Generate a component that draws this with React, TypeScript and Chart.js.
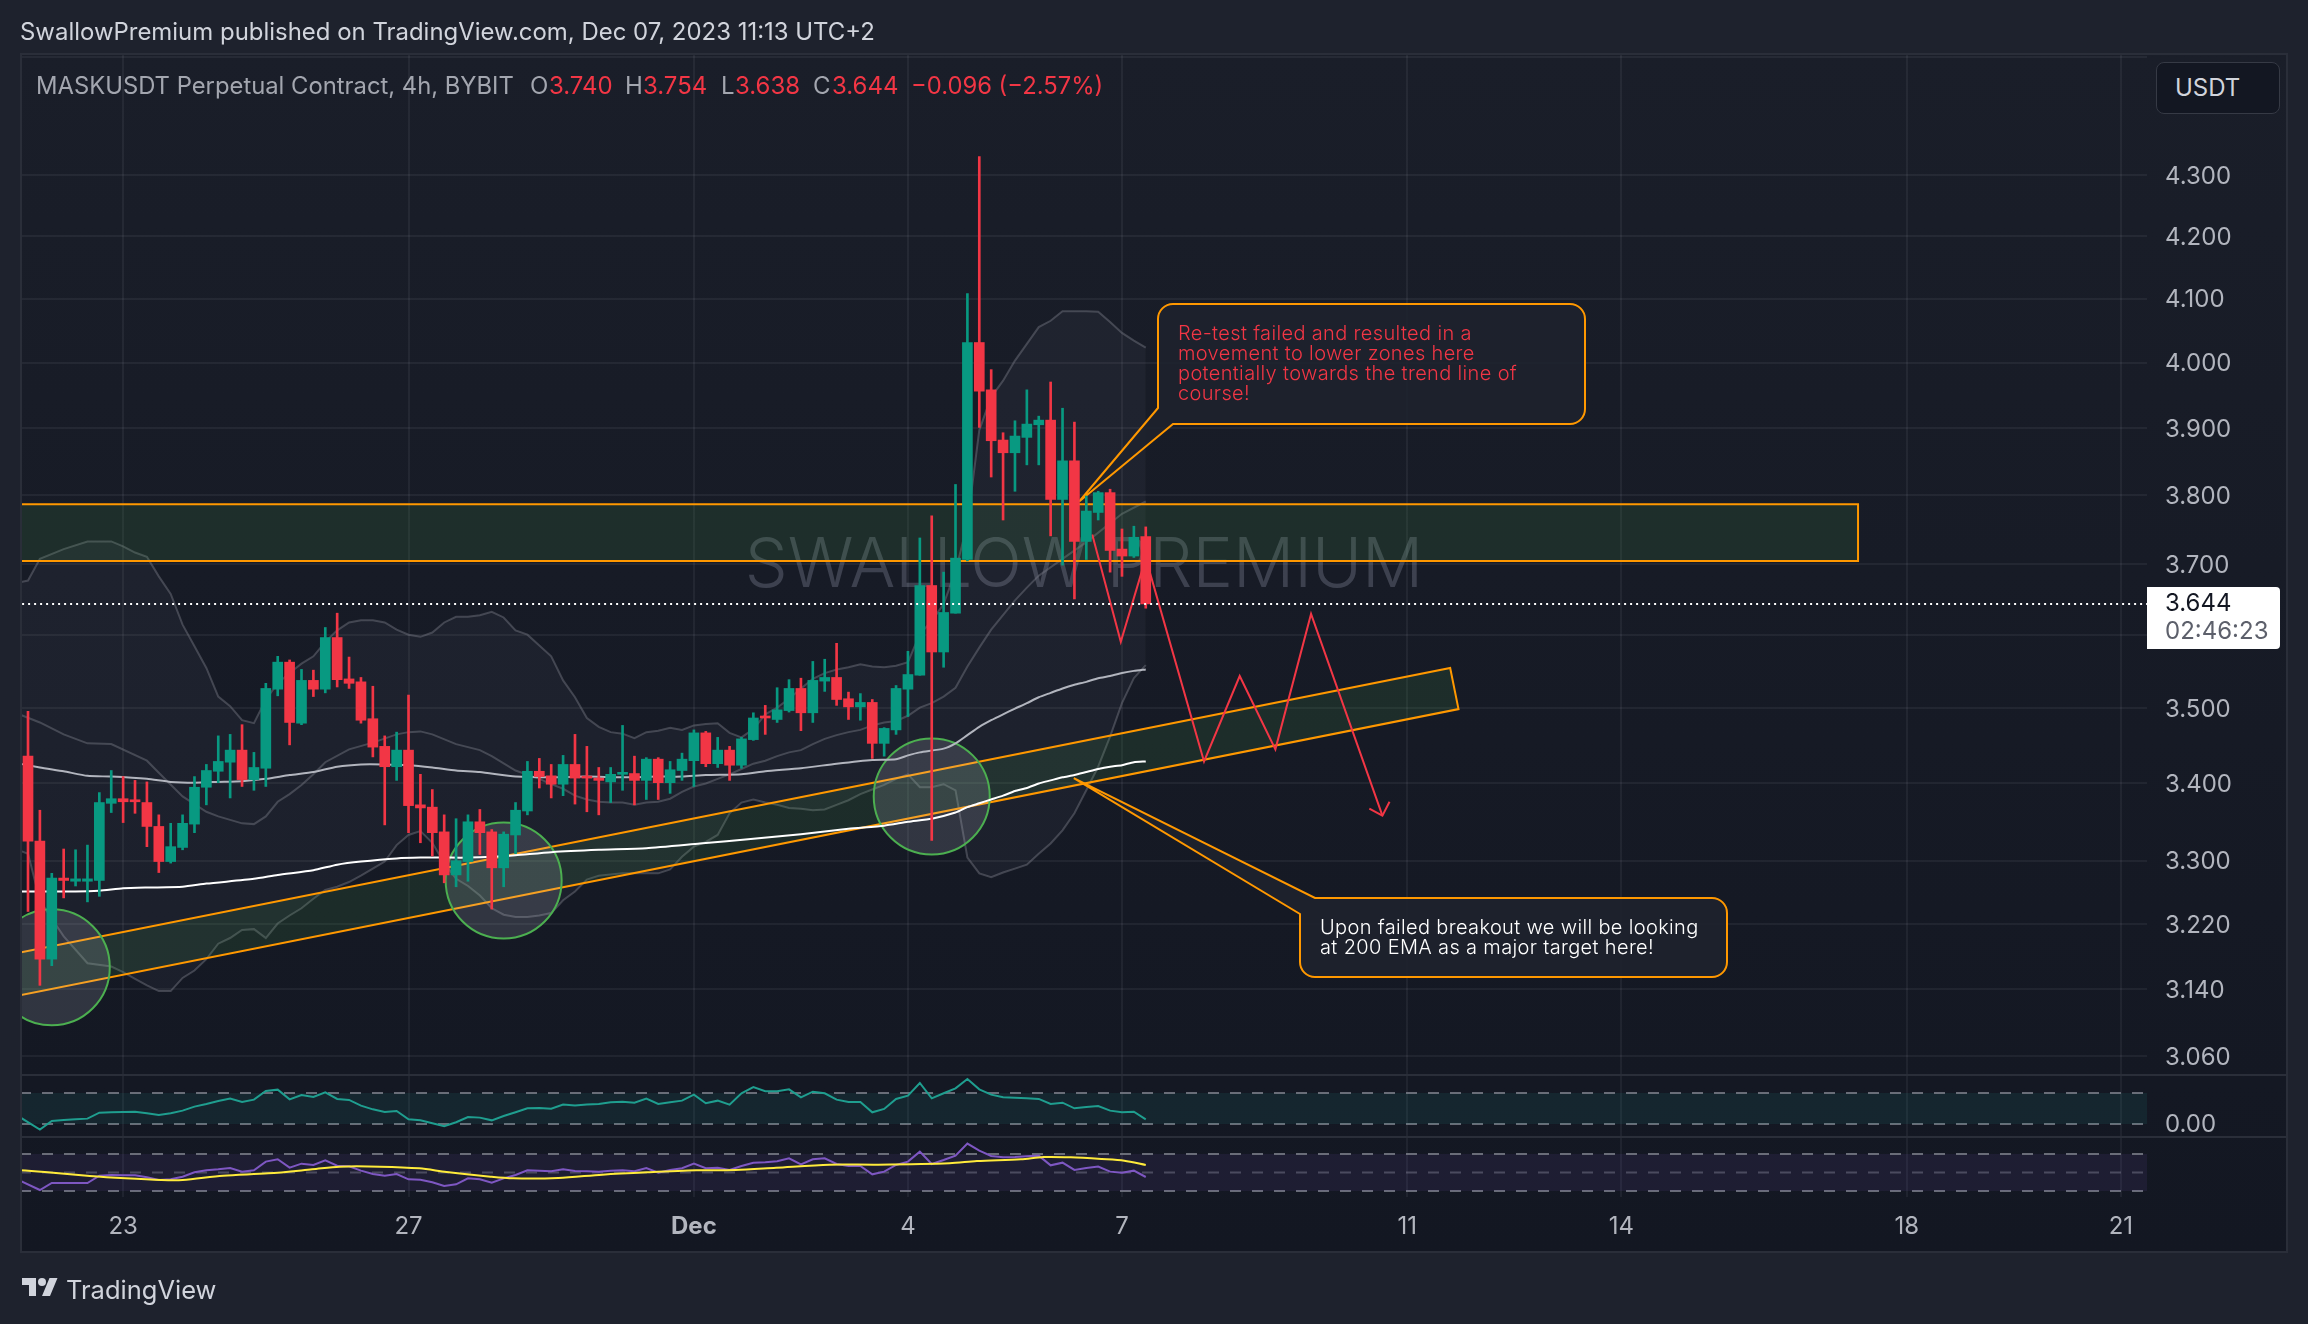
import React, { useEffect, useRef } from "react";
import { Chart, registerables } from "chart.js";

Chart.register(...registerables);

const opens = [3.436,3.325,3.177,3.278,3.274,3.274,3.275,3.374,3.380,3.378,
3.375,3.344,3.299,3.317,3.347,3.395,3.416,3.428,3.444,3.405,
3.420,3.526,3.563,3.480,3.538,3.526,3.597,3.540,3.536,3.486,
3.449,3.422,3.444,3.372,3.369,3.337,3.282,3.299,3.350,3.337,
3.291,3.333,3.364,3.416,3.410,3.399,3.425,3.409,3.407,3.402,
3.412,3.413,3.404,3.432,3.401,3.417,3.430,3.467,3.426,3.444,
3.424,3.458,3.489,3.485,3.497,3.527,3.494,3.537,3.542,3.513,
3.502,3.508,3.453,3.471,3.526,3.545,3.670,3.577,3.631,3.707,
4.031,3.958,3.882,3.863,3.886,3.905,3.912,3.794,3.851,3.733,
3.775,3.804,3.722,3.712,3.740];
const closes = [3.325,3.177,3.278,3.275,3.277,3.277,3.375,3.380,3.376,3.376,
3.344,3.299,3.318,3.348,3.395,3.417,3.429,3.444,3.405,3.421,
3.527,3.563,3.481,3.538,3.526,3.597,3.539,3.534,3.484,3.448,
3.422,3.444,3.371,3.368,3.336,3.282,3.300,3.350,3.336,3.291,
3.334,3.365,3.416,3.409,3.399,3.425,3.407,3.407,3.404,3.412,
3.414,3.404,3.432,3.401,3.418,3.432,3.467,3.426,3.444,3.424,
3.459,3.487,3.487,3.498,3.527,3.494,3.538,3.542,3.512,3.502,
3.508,3.453,3.473,3.527,3.546,3.670,3.577,3.632,3.709,4.031,
3.956,3.881,3.863,3.888,3.906,3.912,3.794,3.851,3.733,3.777,
3.804,3.720,3.712,3.739,3.644];
const highs = [3.496,3.365,3.284,3.315,3.314,3.320,3.388,3.417,3.409,3.404,
3.402,3.359,3.348,3.359,3.409,3.425,3.463,3.465,3.478,3.441,
3.534,3.571,3.566,3.553,3.552,3.611,3.631,3.570,3.542,3.530,
3.463,3.468,3.518,3.412,3.392,3.359,3.354,3.359,3.366,3.340,
3.337,3.375,3.429,3.433,3.425,3.437,3.465,3.449,3.421,3.421,
3.477,3.436,3.434,3.434,3.429,3.440,3.471,3.469,3.461,3.449,
3.461,3.494,3.504,3.528,3.539,3.541,3.564,3.567,3.589,3.522,
3.520,3.512,3.474,3.531,3.578,3.738,3.770,3.689,3.816,4.108,
4.331,3.989,3.893,3.911,3.958,3.918,3.970,3.930,3.909,3.799,
3.806,3.809,3.751,3.755,3.754];
const lows = [3.236,3.145,3.169,3.253,3.268,3.248,3.255,3.362,3.349,3.361,
3.318,3.285,3.297,3.314,3.336,3.372,3.401,3.381,3.396,3.391,
3.396,3.517,3.451,3.478,3.516,3.521,3.529,3.527,3.480,3.435,
3.346,3.404,3.336,3.323,3.306,3.272,3.267,3.274,3.308,3.239,
3.267,3.309,3.359,3.394,3.381,3.384,3.373,3.363,3.359,3.375,
3.391,3.372,3.379,3.379,3.387,3.404,3.396,3.422,3.421,3.404,
3.420,3.457,3.465,3.481,3.495,3.470,3.481,3.523,3.504,3.485,
3.484,3.433,3.436,3.465,3.489,3.545,3.326,3.556,3.631,3.705,
3.901,3.827,3.764,3.806,3.845,3.845,3.741,3.699,3.651,3.707,
3.764,3.689,3.683,3.710,3.638];

type Pair = [number, number];
const bbUpper: Pair[] = [[-2,3.67],[0,3.677],[1,3.708],[3,3.722],[5,3.733],[7,3.733],[8,3.726],[9,3.717],[10,3.711],[11,3.683],[12,3.658],[13,3.615],[14,3.585],[15,3.555],[16,3.516],[17,3.503],[18,3.484],[19,3.480],[20,3.512],[21,3.534],[22,3.548],[23,3.561],[24,3.571],[25,3.591],[26,3.607],[27,3.618],[28,3.621],[29,3.621],[30,3.618],[31,3.608],[32,3.601],[33,3.598],[34,3.604],[35,3.618],[36,3.626],[37,3.626],[38,3.628],[39,3.633],[40,3.625],[41,3.607],[42,3.601],[43,3.586],[44,3.571],[45,3.538],[46,3.515],[47,3.487],[48,3.475],[49,3.468],[50,3.466],[51,3.460],[52,3.468],[53,3.470],[54,3.474],[55,3.471],[56,3.477],[57,3.479],[58,3.480],[59,3.467],[60,3.461],[61,3.472],[62,3.492],[63,3.501],[64,3.513],[65,3.527],[66,3.540],[67,3.548],[68,3.553],[69,3.556],[70,3.560],[71,3.557],[72,3.556],[73,3.558],[74,3.563],[75,3.602],[76,3.620],[77,3.644],[78,3.69],[79,3.759],[80,3.897],[81,3.947],[82,3.972],[83,4.003],[84,4.029],[85,4.055],[86,4.065],[87,4.080],[88,4.080],[89,4.080],[90,4.079],[91,4.063],[92,4.046],[93,4.034],[94,4.023]];
const bbLower: Pair[] = [[-2,3.32],[0,3.309],[1,3.250],[2,3.227],[3,3.205],[5,3.172],[7,3.168],[8,3.161],[9,3.153],[10,3.145],[11,3.138],[12,3.138],[13,3.154],[14,3.163],[15,3.177],[16,3.196],[17,3.203],[18,3.213],[19,3.214],[20,3.203],[21,3.221],[22,3.231],[23,3.240],[24,3.252],[25,3.263],[26,3.267],[27,3.273],[28,3.281],[29,3.290],[30,3.299],[31,3.320],[32,3.333],[33,3.338],[34,3.323],[35,3.297],[36,3.277],[37,3.268],[38,3.256],[39,3.240],[40,3.232],[41,3.229],[42,3.229],[43,3.231],[44,3.234],[45,3.250],[46,3.261],[47,3.276],[48,3.281],[50,3.284],[52,3.284],[53,3.284],[54,3.289],[55,3.305],[56,3.318],[57,3.324],[58,3.333],[59,3.361],[60,3.375],[61,3.379],[62,3.375],[63,3.372],[64,3.368],[65,3.367],[66,3.365],[67,3.366],[68,3.372],[69,3.378],[70,3.386],[71,3.392],[72,3.398],[73,3.406],[74,3.412],[75,3.395],[76,3.395],[77,3.399],[78,3.391],[79,3.304],[80,3.284],[81,3.279],[82,3.285],[83,3.290],[84,3.295],[85,3.309],[86,3.322],[87,3.339],[88,3.361],[89,3.391],[90,3.422],[91,3.462],[92,3.507],[93,3.541],[94,3.559]];
const bbBasis: Pair[] = [[-2,3.50],[1,3.481],[3,3.465],[5,3.453],[7,3.452],[10,3.430],[11,3.414],[13,3.383],[15,3.363],[16,3.357],[18,3.348],[19,3.347],[20,3.357],[21,3.376],[22,3.386],[23,3.398],[24,3.412],[25,3.428],[27,3.445],[29,3.454],[31,3.465],[32,3.468],[33,3.469],[34,3.465],[36,3.452],[38,3.444],[39,3.436],[41,3.417],[43,3.406],[44,3.399],[45,3.393],[46,3.384],[47,3.379],[48,3.376],[49,3.375],[50,3.375],[51,3.372],[52,3.375],[53,3.376],[54,3.380],[55,3.389],[56,3.396],[57,3.400],[58,3.406],[59,3.412],[60,3.419],[61,3.426],[62,3.430],[63,3.436],[64,3.441],[65,3.444],[66,3.452],[67,3.459],[68,3.464],[69,3.468],[70,3.471],[71,3.477],[72,3.481],[73,3.483],[74,3.490],[75,3.501],[76,3.507],[77,3.516],[78,3.528],[79,3.557],[80,3.583],[81,3.608],[83,3.649],[84,3.667],[85,3.684],[87,3.708],[89,3.732],[92,3.773],[94,3.791]];
const ema50: Pair[] = [[-2,3.43],[1,3.421],[3,3.416],[5,3.410],[7,3.409],[10,3.406],[12,3.402],[14,3.401],[16,3.402],[18,3.403],[20,3.406],[22,3.411],[24,3.415],[26,3.422],[28,3.425],[30,3.425],[32,3.424],[34,3.421],[36,3.417],[38,3.415],[41,3.409],[44,3.408],[47,3.409],[50,3.408],[53,3.409],[55,3.409],[57,3.411],[60,3.412],[62,3.416],[65,3.420],[68,3.426],[71,3.431],[73,3.432],[74,3.437],[75,3.441],[77,3.446],[78,3.453],[79,3.464],[80,3.475],[81,3.484],[82,3.492],[83,3.4996],[84,3.507],[85,3.515],[86,3.521],[87,3.527],[88,3.532],[89,3.536],[90,3.541],[91,3.544],[92,3.548],[93,3.551],[94,3.553]];
const ema200: Pair[] = [[-2,3.261],[4,3.261],[6,3.262],[8,3.265],[10,3.266],[13,3.267],[15,3.271],[19,3.277],[21,3.282],[24,3.288],[26,3.295],[28,3.299],[31,3.303],[33,3.304],[35,3.304],[37,3.304],[39,3.305],[41,3.307],[44,3.311],[48,3.314],[52,3.316],[56.5,3.322],[61,3.328],[65,3.334],[69,3.341],[72,3.345],[74,3.350],[76,3.354],[78,3.362],[79,3.369],[80,3.374],[81,3.379],[82,3.384],[83,3.390],[84,3.394],[85,3.400],[86,3.404],[87,3.408],[88,3.411],[89,3.415],[90,3.419],[91,3.422],[92,3.424],[93,3.428],[94,3.429]];

const rsiValues: Pair[] = [[-2,42],[-0.67,38.6],[1,22.7],[2,33.9],[3,35.2],[4,36.0],[5,36.9],[6,44.6],[7,45.1],[8,45.5],[9,45.9],[10,43.8],[11,41.6],[12,43.8],[13,47.2],[14,52.4],[15,55.8],[16,59.7],[17,62.7],[18,58.4],[19,61.4],[20,72.6],[21,74.3],[22,61.8],[23,67.4],[24,64.8],[25,70.9],[26,62.3],[27,61.0],[28,53.7],[29,48.9],[30,45.5],[31,46.8],[32,36.0],[33,34.7],[34,30.9],[35,27.0],[36,32.2],[37,39.0],[38,38.2],[39,34.7],[40,40.3],[41,45.1],[42,50.2],[43,50.7],[44,49.8],[45,55.0],[46,53.7],[47,55.0],[48,55.8],[49,58.0],[50,58.8],[51,57.5],[52,62.7],[53,55.8],[54,58.0],[55,60.1],[56,67.9],[57,56.7],[58,60.1],[59,55.0],[60,69.6],[61,77.7],[62,72.2],[63,72.2],[64,74.7],[65,64.4],[66,71.7],[67,69.6],[68,61.4],[69,58.4],[70,58.4],[71,45.1],[72,49.4],[73,62.3],[74,66.6],[75,82.9],[76,63.1],[77,69.6],[78,76.0],[79,88.1],[80,74.7],[81,67.9],[82,64.4],[83,64.0],[84,63.1],[85,62.3],[86,55.8],[87,57.5],[88,50.2],[89,51.9],[90,53.2],[91,47.2],[92,45.1],[93,45.9],[94,36.0]];
const stochK: Pair[] = [[-2,40],[-0.67,36.8],[1,21.6],[2,33.0],[3,33.0],[4,33.0],[5,33.0],[6,44.9],[7,45.9],[8,45.4],[9,45.4],[10,42.2],[11,37.8],[12,38.9],[13,43.2],[14,50.3],[15,53.5],[16,55.1],[17,57.3],[18,51.4],[19,53.5],[20,67.6],[21,71.4],[22,57.8],[23,64.3],[24,62.2],[25,69.7],[26,61.1],[27,60.0],[28,53.0],[29,47.6],[30,44.9],[31,47.6],[32,38.9],[33,38.4],[34,34.1],[35,28.1],[36,30.8],[37,40.5],[38,38.9],[39,33.5],[40,40.5],[41,45.9],[42,53.5],[43,53.0],[44,51.9],[45,55.1],[46,52.4],[47,51.9],[48,51.4],[49,53.0],[50,53.5],[51,51.9],[52,57.3],[53,49.7],[54,54.1],[55,56.8],[56,64.3],[57,56.8],[58,57.8],[59,54.1],[60,60.5],[61,65.9],[62,66.5],[63,68.1],[64,73.0],[65,63.2],[66,71.4],[67,73.0],[68,63.8],[69,60.5],[70,60.5],[71,47.0],[72,51.4],[73,62.2],[74,67.6],[75,83.8],[76,63.8],[77,70.3],[78,77.3],[79,96.8],[80,85.4],[81,76.8],[82,74.6],[83,75.1],[84,76.2],[85,77.3],[86,61.6],[87,65.9],[88,54.1],[89,57.3],[90,59.5],[91,51.4],[92,49.7],[93,53.0],[94,42.7]];
const stochD: Pair[] = [[-2,54],[-0.67,53.5],[1.4,50.8],[5.2,44.3],[8.2,40.5],[11.2,37.8],[13,37.8],[16.4,44.9],[20.2,48.6],[23.9,55.1],[26.2,59.5],[29.6,59.5],[32.9,56.8],[35.2,50.8],[38.9,43.2],[40.8,40.5],[44.6,41.1],[48.3,46.5],[52.1,50.3],[56.2,53.5],[59.5,54.1],[62.9,57.8],[67.4,62.7],[71.5,62.7],[77.5,64.9],[79.8,68.6],[83.5,71.4],[85.4,75.1],[87.7,74.6],[90.3,71.9],[92.2,69.2],[94,62.2]];

const zone: Pair[] = [[-3,3.787],[153.9,3.787],[153.9,3.705],[-3,3.705],[-3,3.787]];
const channel: Pair[] = [[-0.673,3.185],[119.6,3.555],[120.3,3.499],[-0.673,3.133],[-0.673,3.185]];
const zigzag: Pair[] = [[89.5,3.743],[91.9,3.591],[94,3.709],[98.9,3.429],[101.9,3.544],[104.9,3.445],[107.9,3.630],[113.9,3.358]];
const arrowHead: Pair[] = [[112.8,3.367],[113.9,3.358],[114.5,3.376]];
const circleCentres: Pair[] = [[2,3.167],[40,3.275],[76,3.383]];
const lastPrice = 3.644;
const callout1Tip: Pair = [88.4, 3.791];
const callout2Tip: Pair = [87.95, 3.407];

const priceTicks = [4.5,4.3,4.2,4.1,4.0,3.9,3.8,3.7,3.6,3.5,3.4,3.3,3.22,3.14,3.06];
const hiddenPriceTicks = [4.5,3.6];
const timeTickIndex = [8,32,56,74,92,116,134,158,176];
const timeTickLabels = ["23","27","Dec","4","7","11","14","18","21"];

const RED = "#f23645";
const GREEN = "#089981";
const ORANGE = "#ff9800";
const GRID = "rgba(240,243,250,0.06)";
const BAND = "rgba(120,123,134,0.45)";
const xMin = -0.673;
const xMax = 178.2;

const pts = (a: Pair[]) => a.map(([x, y]) => ({ x, y }));
const lineBase = { type: "line", pointRadius: 0, borderCapStyle: "butt", tension: 0, fill: false };
const noPad = (s: any) => { s.paddingLeft = 0; s.paddingRight = 0; s.paddingTop = 0; s.paddingBottom = 0; };

const framePlugin = {
  id: "frame",
  beforeDraw(chart: any) {
    const c = chart.ctx;
    c.save();
    const g = c.createLinearGradient(0, 53, 0, 1253);
    g.addColorStop(0, "#1a1e29");
    g.addColorStop(1, "#131722");
    c.fillStyle = g;
    c.fillRect(20, 53, 2268, 1200);
    c.restore();
  },
  beforeDatasetsDraw(chart: any) {
    const c = chart.ctx;
    c.save();
    c.beginPath();
    c.rect(chart.chartArea.left, chart.chartArea.top, chart.chartArea.width, chart.chartArea.height);
    c.clip();
    c.fillStyle = "rgba(190,195,215,0.23)";
    c.font = "300 68px Inter";
    c.textAlign = "center";
    c.textBaseline = "middle";
    c.fillText("SWALLOW PREMIUM", 1084, 567);
    c.restore();
  },
  beforeDatasetDraw(chart: any, args: any) {
    if (chart.data.datasets[args.index].label !== "Wicks") return;
    const { x, y } = chart.scales;
    const c = chart.ctx;
    c.save();
    c.strokeStyle = ORANGE;
    c.lineWidth = 2;
    c.fillStyle = "rgba(30,34,45,0.9)";
    const r = 15;
    // first callout
    c.beginPath();
    c.moveTo(1158, 408);
    c.lineTo(x.getPixelForValue(callout1Tip[0]), y.getPixelForValue(callout1Tip[1]));
    c.lineTo(1173, 424);
    c.lineTo(1585 - r, 424);
    c.arcTo(1585, 424, 1585, 424 - r, r);
    c.lineTo(1585, 304 + r);
    c.arcTo(1585, 304, 1585 - r, 304, r);
    c.lineTo(1158 + r, 304);
    c.arcTo(1158, 304, 1158, 304 + r, r);
    c.closePath();
    c.fill();
    c.stroke();
    // second callout
    c.beginPath();
    c.moveTo(1300, 914);
    c.lineTo(x.getPixelForValue(callout2Tip[0]), y.getPixelForValue(callout2Tip[1]));
    c.lineTo(1315, 898);
    c.lineTo(1727 - r, 898);
    c.arcTo(1727, 898, 1727, 898 + r, r);
    c.lineTo(1727, 977 - r);
    c.arcTo(1727, 977, 1727 - r, 977, r);
    c.lineTo(1300 + r, 977);
    c.arcTo(1300, 977, 1300, 977 - r, r);
    c.closePath();
    c.fill();
    c.stroke();
    c.restore();
  },
  afterDraw(chart: any) {
    const c = chart.ctx;
    c.save();
    c.strokeStyle = "#2a2e39";
    c.lineWidth = 2;
    c.strokeRect(21, 54, 2266, 1198);
    c.beginPath();
    [1075, 1137].forEach((py) => {
      c.moveTo(20, py);
      c.lineTo(2288, py);
    });
    c.stroke();
    // last price label
    const top = 587, h = 62;
    c.fillStyle = "#ffffff";
    c.beginPath();
    c.roundRect(2147, top, 133, h, [0, 4, 4, 0]);
    c.fill();
    c.font = "24px Inter";
    c.textBaseline = "middle";
    c.textAlign = "left";
    c.fillStyle = "#131722";
    c.fillText(lastPrice.toFixed(3), 2165, 604);
    c.fillStyle = "#5d606b";
    c.fillText("02:46:23", 2165, 632);
    c.restore();
  },
};

const abs = (left: number, top: number, extra: any = {}) => ({
  position: "absolute", left, top, whiteSpace: "pre", lineHeight: "30px", ...extra,
});

export default function App() {
  const ref = useRef<HTMLCanvasElement>(null);
  useEffect(() => {
    Chart.defaults.font.family = "Inter";
    const xs = opens.map((_, i) => i);
    const colours = xs.map((i) => (closes[i] >= opens[i] ? GREEN : RED));
    const ds: any[] = [
      { ...lineBase, label: "Last", order: -1, data: [{ x: -1, y: lastPrice }, { x: xMax, y: lastPrice }], borderColor: "#ffffff", borderWidth: 2, borderDash: [2, 4] },
      { type: "bar", label: "Bodies", order: 0, grouped: false, barThickness: 10, minBarLength: 2, data: xs.map((i) => ({ x: i, y: [opens[i], closes[i]] })), backgroundColor: colours },
      { type: "bar", label: "Wicks", order: 1, grouped: false, barThickness: 2, data: xs.map((i) => ({ x: i, y: [lows[i], highs[i]] })), backgroundColor: colours },
      { ...lineBase, label: "EMA 200", order: 2, data: pts(ema200), borderColor: "#ffffff", borderWidth: 2, tension: 0.2 },
      { ...lineBase, label: "EMA 50", order: 3, data: pts(ema50), borderColor: "#b2b5be", borderWidth: 2, tension: 0.2 },
      { ...lineBase, label: "Path", order: 4, data: pts(zigzag), borderColor: RED, borderWidth: 2 },
      { ...lineBase, label: "Arrow", order: 4, data: pts(arrowHead), borderColor: RED, borderWidth: 2 },
      { ...lineBase, label: "Circles", order: 5, showLine: false, data: pts(circleCentres), pointRadius: 58, pointBackgroundColor: "rgba(200,204,220,0.16)", pointBorderColor: "#4caf50", pointBorderWidth: 2 },
      { ...lineBase, label: "Channel", order: 6, data: pts(channel), borderColor: ORANGE, borderWidth: 2, fill: "shape", backgroundColor: "rgba(76,175,80,0.13)" },
      { ...lineBase, label: "Zone", order: 7, data: pts(zone), borderColor: ORANGE, borderWidth: 2, fill: "shape", backgroundColor: "rgba(76,175,80,0.13)" },
      { ...lineBase, label: "BB basis", order: 8, data: pts(bbBasis), borderColor: BAND, borderWidth: 2 },
      { ...lineBase, label: "BB upper", order: 9, data: pts(bbUpper), borderColor: BAND, borderWidth: 2, fill: "+1", backgroundColor: "rgba(178,181,190,0.05)" },
      { ...lineBase, label: "BB lower", order: 9, data: pts(bbLower), borderColor: BAND, borderWidth: 2 },

      { ...lineBase, label: "RSI", order: 2, yAxisID: "rsi", data: pts(rsiValues), borderColor: "#1f9e8f", borderWidth: 2 },
      { ...lineBase, label: "RSI 70", order: 3, yAxisID: "rsi", data: [{ x: xMin, y: 70 }, { x: xMax, y: 70 }], borderColor: "rgba(120,123,134,0.85)", borderWidth: 2, borderDash: [11, 11], fill: "+1", backgroundColor: "rgba(38,166,154,0.1)" },
      { ...lineBase, label: "RSI 30", order: 3, yAxisID: "rsi", data: [{ x: xMin, y: 30 }, { x: xMax, y: 30 }], borderColor: "rgba(120,123,134,0.85)", borderWidth: 2, borderDash: [11, 11] },

      { ...lineBase, label: "Stoch D", order: 1, yAxisID: "stoch", data: pts(stochD), borderColor: "#ffeb3b", borderWidth: 2, tension: 0.3 },
      { ...lineBase, label: "Stoch K", order: 2, yAxisID: "stoch", data: pts(stochK), borderColor: "#7e57c2", borderWidth: 2 },
      { ...lineBase, label: "Stoch 80", order: 3, yAxisID: "stoch", data: [{ x: xMin, y: 80 }, { x: xMax, y: 80 }], borderColor: "rgba(120,123,134,0.85)", borderWidth: 2, borderDash: [11, 11], fill: "+1", backgroundColor: "rgba(126,87,194,0.1)" },
      { ...lineBase, label: "Stoch 20", order: 3, yAxisID: "stoch", data: [{ x: xMin, y: 20 }, { x: xMax, y: 20 }], borderColor: "rgba(120,123,134,0.85)", borderWidth: 2, borderDash: [11, 11] },
      { ...lineBase, label: "Stoch 50", order: 3, yAxisID: "stoch", data: [{ x: xMin, y: 50 }, { x: xMax, y: 50 }], borderColor: "rgba(120,123,134,0.5)", borderWidth: 2, borderDash: [11, 11] },
    ];
    const chart = new Chart(ref.current as any, {
      type: "bar",
      data: { datasets: ds },
      plugins: [framePlugin],
      options: {
        responsive: false,
        animation: false,
        events: [],
        layout: { autoPadding: false, padding: { left: 20, top: 54, right: 20, bottom: 71 } },
        plugins: { legend: { display: false }, tooltip: { enabled: false } },
        scales: {
          x: {
            type: "linear", min: xMin, max: xMax, offset: false,
            grid: { color: GRID, lineWidth: 2, offset: false, drawTicks: false },
            border: { display: false },
            afterBuildTicks: (s: any) => { s.ticks = timeTickIndex.map((value) => ({ value })); },
            afterFit: (s: any) => { s.height = 56; noPad(s); },
            ticks: {
              autoSkip: false, maxRotation: 0, padding: 15, color: "#b2b5be",
              callback: (v: any) => timeTickLabels[timeTickIndex.indexOf(v)] ?? "",
              font: (ctx: any) => ({ family: "Inter", size: 24, weight: ctx.tick && ctx.tick.value === 56 ? "bold" : "normal" }),
            },
          },
          y: {
            type: "logarithmic", position: "right", min: 3.038, max: 4.506, stack: "panes", stackWeight: 1021, weight: 0,
            grid: { color: GRID, lineWidth: 2, drawTicks: false },
            border: { display: false },
            afterBuildTicks: (s: any) => { s.ticks = priceTicks.map((value) => ({ value })); },
            afterFit: (s: any) => { s.width = 141; noPad(s); },
            ticks: {
              autoSkip: false, padding: 18, labelOffset: 1.5, color: "#b2b5be", crossAlign: "near",
              font: { family: "Inter", size: 24 },
              callback: (v: any) => (hiddenPriceTicks.includes(v) ? "" : Number(v).toFixed(3)),
            },
          },
          rsi: {
            type: "linear", position: "right", min: 13.2, max: 93.2, stack: "panes", stackWeight: 62, weight: 1,
            grid: { display: false, drawTicks: false }, border: { display: false },
            afterBuildTicks: (s: any) => { s.ticks = [{ value: 30 }]; },
            afterFit: (s: any) => { s.width = 141; noPad(s); },
            ticks: { padding: 18, labelOffset: 1, color: "#b2b5be", crossAlign: "near", font: { family: "Inter", size: 24 }, callback: () => "0.00" },
          },
          stoch: {
            type: "linear", position: "right", min: 10.3, max: 107.5, stack: "panes", stackWeight: 60, weight: 2,
            grid: { display: false, drawTicks: false }, border: { display: false },
            afterFit: (s: any) => { s.width = 141; noPad(s); },
            ticks: { display: false },
          },
        },
      },
    } as any);
    return () => chart.destroy();
  }, []);

  const label = "#a3a6af";
  const noteStyle = { fontSize: 20, lineHeight: "20px", letterSpacing: "0.35px", fontWeight: 300 };
  return (
    <div style={{ position: "fixed", left: 0, top: 0, width: 2308, height: 1324, background: "#1e222d", overflow: "hidden", fontFamily: "Inter", fontSize: 24 }}>
      <canvas ref={ref} width={2308} height={1324} style={{ display: "block", width: 2308, height: 1324 }} />
      <div style={abs(20, 17, { color: "#d1d4dc", fontSize: 23.95 }) as any}>SwallowPremium published on TradingView.com, Dec 07, 2023 11:13 UTC+2</div>
      <div style={abs(36, 71, { color: label, fontSize: 23.8 }) as any}>MASKUSDT Perpetual Contract, 4h, BYBIT</div>
      <div style={abs(530, 71, { color: label }) as any}>O</div>
      <div style={abs(549, 71, { color: RED }) as any}>3.740</div>
      <div style={abs(625, 71, { color: label }) as any}>H</div>
      <div style={abs(643, 71, { color: RED }) as any}>3.754</div>
      <div style={abs(721, 71, { color: label }) as any}>L</div>
      <div style={abs(735, 71, { color: RED }) as any}>3.638</div>
      <div style={abs(813, 71, { color: label }) as any}>C</div>
      <div style={abs(832, 71, { color: RED }) as any}>3.644</div>
      <div style={abs(911, 71, { color: RED, fontSize: 23.8 }) as any}>−0.096 (−2.57%)</div>
      <div style={{ position: "absolute", left: 2156, top: 62, width: 124, height: 52, boxSizing: "border-box", background: "#131722", border: "1px solid #363a45", borderRadius: 8 }} />
      <div style={abs(2175, 73, { color: "#d1d4dc" }) as any}>USDT</div>
      <div style={abs(1178, 323, { color: RED, ...noteStyle }) as any}>{"Re-test failed and resulted in a\nmovement to lower zones here\npotentially towards the trend line of\ncourse!"}</div>
      <div style={abs(1320, 917, { color: "#ffffff", ...noteStyle }) as any}>{"Upon failed breakout we will be looking\nat 200 EMA as a major target here!"}</div>
      <svg style={{ position: "absolute", left: 20, top: 1274 }} width="40" height="28" viewBox="0 0 36 28">
        <path d="M14 22H7V11H0V4h14v18zM28 22h-8l7.5-18h8L28 22z" fill="#d1d4dc" />
        <circle cx="20" cy="8" r="4" fill="#d1d4dc" />
      </svg>
      <div style={abs(66, 1275, { color: "#d1d4dc", fontSize: 25.5, fontWeight: 400 }) as any}>TradingView</div>
    </div>
  );
}
